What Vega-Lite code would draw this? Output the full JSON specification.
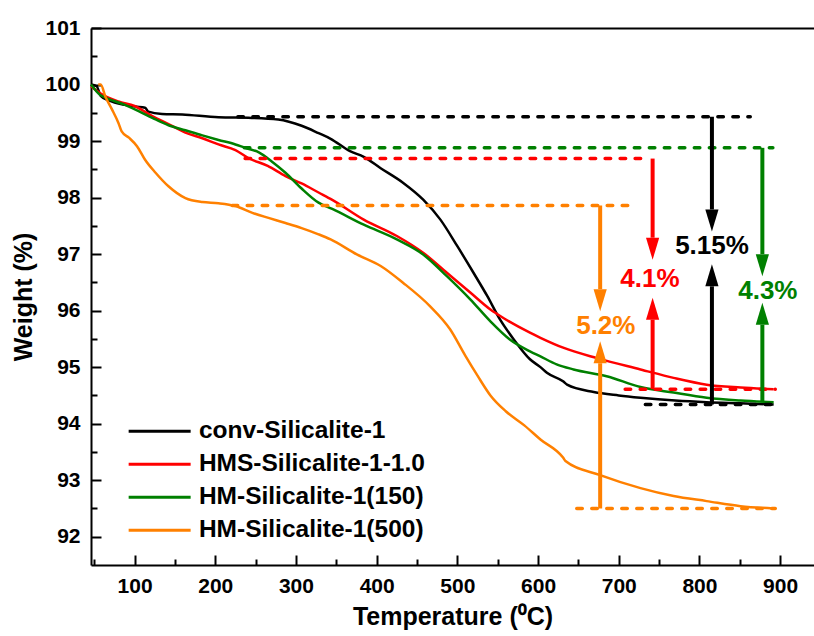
{
  "$schema": "https://vega.github.io/schema/vega-lite/v6.json",
  "autosize": {"type": "none"},
  "padding": {"left": 91, "top": 28, "right": 0, "bottom": 71},
  "width": 723,
  "height": 537,
  "config": {"view": {"stroke": null}, "font": "Liberation Sans"},
  "datasets": {
    "curves": [
      {"s": "conv-Silicalite-1", "t": 46, "w": 100.0},
      {"s": "conv-Silicalite-1", "t": 53, "w": 99.97},
      {"s": "conv-Silicalite-1", "t": 58, "w": 99.8},
      {"s": "conv-Silicalite-1", "t": 68, "w": 99.72},
      {"s": "conv-Silicalite-1", "t": 88, "w": 99.64},
      {"s": "conv-Silicalite-1", "t": 101, "w": 99.61},
      {"s": "conv-Silicalite-1", "t": 113, "w": 99.59},
      {"s": "conv-Silicalite-1", "t": 117, "w": 99.52},
      {"s": "conv-Silicalite-1", "t": 134, "w": 99.48},
      {"s": "conv-Silicalite-1", "t": 159, "w": 99.47},
      {"s": "conv-Silicalite-1", "t": 204, "w": 99.42},
      {"s": "conv-Silicalite-1", "t": 245, "w": 99.41},
      {"s": "conv-Silicalite-1", "t": 278, "w": 99.38},
      {"s": "conv-Silicalite-1", "t": 307, "w": 99.27},
      {"s": "conv-Silicalite-1", "t": 328, "w": 99.14},
      {"s": "conv-Silicalite-1", "t": 343, "w": 99.04},
      {"s": "conv-Silicalite-1", "t": 367, "w": 98.82},
      {"s": "conv-Silicalite-1", "t": 384, "w": 98.72},
      {"s": "conv-Silicalite-1", "t": 405, "w": 98.52},
      {"s": "conv-Silicalite-1", "t": 433, "w": 98.26},
      {"s": "conv-Silicalite-1", "t": 458, "w": 97.96},
      {"s": "conv-Silicalite-1", "t": 479, "w": 97.61},
      {"s": "conv-Silicalite-1", "t": 500, "w": 97.14},
      {"s": "conv-Silicalite-1", "t": 520, "w": 96.67},
      {"s": "conv-Silicalite-1", "t": 537, "w": 96.26},
      {"s": "conv-Silicalite-1", "t": 553, "w": 95.84},
      {"s": "conv-Silicalite-1", "t": 570, "w": 95.49},
      {"s": "conv-Silicalite-1", "t": 590, "w": 95.14},
      {"s": "conv-Silicalite-1", "t": 603, "w": 95.0},
      {"s": "conv-Silicalite-1", "t": 611, "w": 94.9},
      {"s": "conv-Silicalite-1", "t": 631, "w": 94.75},
      {"s": "conv-Silicalite-1", "t": 636, "w": 94.69},
      {"s": "conv-Silicalite-1", "t": 669, "w": 94.56},
      {"s": "conv-Silicalite-1", "t": 700, "w": 94.5},
      {"s": "conv-Silicalite-1", "t": 727, "w": 94.46},
      {"s": "conv-Silicalite-1", "t": 770, "w": 94.41},
      {"s": "conv-Silicalite-1", "t": 809, "w": 94.38},
      {"s": "conv-Silicalite-1", "t": 850, "w": 94.36},
      {"s": "conv-Silicalite-1", "t": 892, "w": 94.34},
      {"s": "HMS-Silicalite-1-1.0", "t": 46, "w": 99.97},
      {"s": "HMS-Silicalite-1-1.0", "t": 57, "w": 99.85},
      {"s": "HMS-Silicalite-1-1.0", "t": 80, "w": 99.7},
      {"s": "HMS-Silicalite-1-1.0", "t": 100, "w": 99.62},
      {"s": "HMS-Silicalite-1-1.0", "t": 122, "w": 99.44},
      {"s": "HMS-Silicalite-1-1.0", "t": 142, "w": 99.3},
      {"s": "HMS-Silicalite-1-1.0", "t": 163, "w": 99.15},
      {"s": "HMS-Silicalite-1-1.0", "t": 184, "w": 99.05},
      {"s": "HMS-Silicalite-1-1.0", "t": 204, "w": 98.94},
      {"s": "HMS-Silicalite-1-1.0", "t": 225, "w": 98.84},
      {"s": "HMS-Silicalite-1-1.0", "t": 241, "w": 98.7},
      {"s": "HMS-Silicalite-1-1.0", "t": 265, "w": 98.56},
      {"s": "HMS-Silicalite-1-1.0", "t": 287, "w": 98.38},
      {"s": "HMS-Silicalite-1-1.0", "t": 307, "w": 98.25},
      {"s": "HMS-Silicalite-1-1.0", "t": 328, "w": 98.09},
      {"s": "HMS-Silicalite-1-1.0", "t": 345, "w": 97.96},
      {"s": "HMS-Silicalite-1-1.0", "t": 384, "w": 97.61},
      {"s": "HMS-Silicalite-1-1.0", "t": 425, "w": 97.32},
      {"s": "HMS-Silicalite-1-1.0", "t": 458, "w": 97.02},
      {"s": "HMS-Silicalite-1-1.0", "t": 487, "w": 96.67},
      {"s": "HMS-Silicalite-1-1.0", "t": 516, "w": 96.32},
      {"s": "HMS-Silicalite-1-1.0", "t": 541, "w": 96.02},
      {"s": "HMS-Silicalite-1-1.0", "t": 557, "w": 95.87},
      {"s": "HMS-Silicalite-1-1.0", "t": 590, "w": 95.61},
      {"s": "HMS-Silicalite-1-1.0", "t": 603, "w": 95.52},
      {"s": "HMS-Silicalite-1-1.0", "t": 632, "w": 95.34},
      {"s": "HMS-Silicalite-1-1.0", "t": 673, "w": 95.16},
      {"s": "HMS-Silicalite-1-1.0", "t": 727, "w": 94.96},
      {"s": "HMS-Silicalite-1-1.0", "t": 768, "w": 94.81},
      {"s": "HMS-Silicalite-1-1.0", "t": 809, "w": 94.69},
      {"s": "HMS-Silicalite-1-1.0", "t": 851, "w": 94.64},
      {"s": "HMS-Silicalite-1-1.0", "t": 892, "w": 94.61},
      {"s": "HM-Silicalite-1(150)", "t": 46, "w": 100.0},
      {"s": "HM-Silicalite-1(150)", "t": 57, "w": 99.82},
      {"s": "HM-Silicalite-1(150)", "t": 64, "w": 99.77},
      {"s": "HM-Silicalite-1(150)", "t": 88, "w": 99.64},
      {"s": "HM-Silicalite-1(150)", "t": 105, "w": 99.53},
      {"s": "HM-Silicalite-1(150)", "t": 122, "w": 99.41},
      {"s": "HM-Silicalite-1(150)", "t": 142, "w": 99.28},
      {"s": "HM-Silicalite-1(150)", "t": 163, "w": 99.19},
      {"s": "HM-Silicalite-1(150)", "t": 184, "w": 99.1},
      {"s": "HM-Silicalite-1(150)", "t": 204, "w": 99.02},
      {"s": "HM-Silicalite-1(150)", "t": 225, "w": 98.94},
      {"s": "HM-Silicalite-1(150)", "t": 237, "w": 98.88},
      {"s": "HM-Silicalite-1(150)", "t": 254, "w": 98.8},
      {"s": "HM-Silicalite-1(150)", "t": 270, "w": 98.64},
      {"s": "HM-Silicalite-1(150)", "t": 287, "w": 98.44},
      {"s": "HM-Silicalite-1(150)", "t": 307, "w": 98.16},
      {"s": "HM-Silicalite-1(150)", "t": 328, "w": 97.91},
      {"s": "HM-Silicalite-1(150)", "t": 345, "w": 97.8},
      {"s": "HM-Silicalite-1(150)", "t": 384, "w": 97.52},
      {"s": "HM-Silicalite-1(150)", "t": 425, "w": 97.26},
      {"s": "HM-Silicalite-1(150)", "t": 458, "w": 96.99},
      {"s": "HM-Silicalite-1(150)", "t": 487, "w": 96.61},
      {"s": "HM-Silicalite-1(150)", "t": 516, "w": 96.2},
      {"s": "HM-Silicalite-1(150)", "t": 541, "w": 95.81},
      {"s": "HM-Silicalite-1(150)", "t": 565, "w": 95.49},
      {"s": "HM-Silicalite-1(150)", "t": 590, "w": 95.28},
      {"s": "HM-Silicalite-1(150)", "t": 603, "w": 95.19},
      {"s": "HM-Silicalite-1(150)", "t": 623, "w": 95.05},
      {"s": "HM-Silicalite-1(150)", "t": 644, "w": 94.96},
      {"s": "HM-Silicalite-1(150)", "t": 685, "w": 94.84},
      {"s": "HM-Silicalite-1(150)", "t": 727, "w": 94.65},
      {"s": "HM-Silicalite-1(150)", "t": 768, "w": 94.55},
      {"s": "HM-Silicalite-1(150)", "t": 809, "w": 94.46},
      {"s": "HM-Silicalite-1(150)", "t": 851, "w": 94.41},
      {"s": "HM-Silicalite-1(150)", "t": 892, "w": 94.38},
      {"s": "HM-Silicalite-1(500)", "t": 55, "w": 100.0},
      {"s": "HM-Silicalite-1(500)", "t": 58, "w": 100.0},
      {"s": "HM-Silicalite-1(500)", "t": 64, "w": 99.78},
      {"s": "HM-Silicalite-1(500)", "t": 72, "w": 99.56},
      {"s": "HM-Silicalite-1(500)", "t": 80, "w": 99.32},
      {"s": "HM-Silicalite-1(500)", "t": 84, "w": 99.17},
      {"s": "HM-Silicalite-1(500)", "t": 93, "w": 99.06},
      {"s": "HM-Silicalite-1(500)", "t": 103, "w": 98.91},
      {"s": "HM-Silicalite-1(500)", "t": 113, "w": 98.67},
      {"s": "HM-Silicalite-1(500)", "t": 126, "w": 98.44},
      {"s": "HM-Silicalite-1(500)", "t": 142, "w": 98.2},
      {"s": "HM-Silicalite-1(500)", "t": 163, "w": 97.99},
      {"s": "HM-Silicalite-1(500)", "t": 184, "w": 97.92},
      {"s": "HM-Silicalite-1(500)", "t": 204, "w": 97.9},
      {"s": "HM-Silicalite-1(500)", "t": 225, "w": 97.85},
      {"s": "HM-Silicalite-1(500)", "t": 246, "w": 97.73},
      {"s": "HM-Silicalite-1(500)", "t": 266, "w": 97.64},
      {"s": "HM-Silicalite-1(500)", "t": 287, "w": 97.55},
      {"s": "HM-Silicalite-1(500)", "t": 307, "w": 97.46},
      {"s": "HM-Silicalite-1(500)", "t": 328, "w": 97.35},
      {"s": "HM-Silicalite-1(500)", "t": 343, "w": 97.26},
      {"s": "HM-Silicalite-1(500)", "t": 376, "w": 96.99},
      {"s": "HM-Silicalite-1(500)", "t": 405, "w": 96.79},
      {"s": "HM-Silicalite-1(500)", "t": 433, "w": 96.49},
      {"s": "HM-Silicalite-1(500)", "t": 466, "w": 96.08},
      {"s": "HM-Silicalite-1(500)", "t": 491, "w": 95.67},
      {"s": "HM-Silicalite-1(500)", "t": 510, "w": 95.2},
      {"s": "HM-Silicalite-1(500)", "t": 525, "w": 94.85},
      {"s": "HM-Silicalite-1(500)", "t": 541, "w": 94.5},
      {"s": "HM-Silicalite-1(500)", "t": 560, "w": 94.22},
      {"s": "HM-Silicalite-1(500)", "t": 583, "w": 93.97},
      {"s": "HM-Silicalite-1(500)", "t": 603, "w": 93.72},
      {"s": "HM-Silicalite-1(500)", "t": 631, "w": 93.4},
      {"s": "HM-Silicalite-1(500)", "t": 634, "w": 93.34},
      {"s": "HM-Silicalite-1(500)", "t": 677, "w": 93.09},
      {"s": "HM-Silicalite-1(500)", "t": 727, "w": 92.86},
      {"s": "HM-Silicalite-1(500)", "t": 768, "w": 92.72},
      {"s": "HM-Silicalite-1(500)", "t": 809, "w": 92.63},
      {"s": "HM-Silicalite-1(500)", "t": 851, "w": 92.54},
      {"s": "HM-Silicalite-1(500)", "t": 892, "w": 92.5}
    ],
    "dashes": [
      {"s": "conv-Silicalite-1", "t1": 228, "t2": 863, "w": 99.43},
      {"s": "conv-Silicalite-1", "t1": 733, "t2": 891, "w": 94.34},
      {"s": "HM-Silicalite-1(150)", "t1": 236, "t2": 891, "w": 98.88},
      {"s": "HMS-Silicalite-1-1.0", "t1": 237, "t2": 738, "w": 98.69},
      {"s": "HMS-Silicalite-1-1.0", "t1": 708, "t2": 894, "w": 94.61},
      {"s": "HM-Silicalite-1(500)", "t1": 221, "t2": 720, "w": 97.86},
      {"s": "HM-Silicalite-1(500)", "t1": 648, "t2": 894, "w": 92.5}
    ],
    "arrows": [
      {"s": "conv-Silicalite-1", "t": 815.5, "w1": 99.43, "w2": 97.79, "tip": 97.4, "dir": "down"},
      {"s": "conv-Silicalite-1", "t": 815.5, "w1": 94.34, "w2": 96.43, "tip": 96.82, "dir": "up"},
      {"s": "HMS-Silicalite-1-1.0", "t": 742, "w1": 98.69, "w2": 97.29, "tip": 96.9, "dir": "down"},
      {"s": "HMS-Silicalite-1-1.0", "t": 742, "w1": 94.61, "w2": 95.84, "tip": 96.23, "dir": "up"},
      {"s": "HM-Silicalite-1(150)", "t": 878, "w1": 98.88, "w2": 97.0, "tip": 96.61, "dir": "down"},
      {"s": "HM-Silicalite-1(150)", "t": 878, "w1": 94.38, "w2": 95.75, "tip": 96.14, "dir": "up"},
      {"s": "HM-Silicalite-1(500)", "t": 677, "w1": 97.86, "w2": 96.38, "tip": 95.99, "dir": "down"},
      {"s": "HM-Silicalite-1(500)", "t": 677, "w1": 92.5, "w2": 95.07, "tip": 95.46, "dir": "up"}
    ],
    "labels": [
      {"s": "conv-Silicalite-1", "t": 815.6, "w": 97.14, "txt": "5.15%"},
      {"s": "HMS-Silicalite-1-1.0", "t": 738.6, "w": 96.56, "txt": "4.1%"},
      {"s": "HM-Silicalite-1(150)", "t": 884.8, "w": 96.34, "txt": "4.3%"},
      {"s": "HM-Silicalite-1(500)", "t": 684, "w": 95.73, "txt": "5.2%"}
    ]
  },
  "resolve": {"axis": {"x": "independent", "y": "independent"}},
  "layer": [
    {
      "data": {"name": "curves"},
      "mark": {"type": "line", "strokeWidth": 2.5, "interpolate": "monotone"},
      "encoding": {
        "x": {"field": "t", "type": "quantitative",
          "scale": {"domain": [46, 942], "nice": false, "zero": false},
          "axis": {"orient": "bottom", "values": [100, 200, 300, 400, 500, 600, 700, 800, 900], "format": "d",
            "grid": false, "tickSize": -10, "tickWidth": 2, "tickColor": "black",
            "domainColor": "black", "domainWidth": 2,
            "labelFont": "Liberation Sans", "labelFontWeight": "bold", "labelFontSize": 21, "labelColor": "black", "labelPadding": 20,
            "title": "Temperature (⁰C)", "titleFont": "Liberation Sans", "titleFontWeight": "bold", "titleFontSize": 25, "titleColor": "black", "titlePadding": 8}},
        "y": {"field": "w", "type": "quantitative",
          "scale": {"domain": [91.5, 101], "nice": false, "zero": false},
          "axis": {"orient": "left", "values": [92, 93, 94, 95, 96, 97, 98, 99, 100, 101], "format": "d",
            "grid": false, "tickSize": -10, "tickWidth": 2, "tickColor": "black",
            "domainColor": "black", "domainWidth": 2,
            "labelFont": "Liberation Sans", "labelFontWeight": "bold", "labelFontSize": 21, "labelColor": "black", "labelPadding": 21,
            "title": "Weight (%)", "titleFont": "Liberation Sans", "titleFontWeight": "bold", "titleFontSize": 25, "titleColor": "black", "titlePadding": 8}},
        "color": {"field": "s", "type": "nominal",
          "scale": {"domain": ["conv-Silicalite-1", "HMS-Silicalite-1-1.0", "HM-Silicalite-1(150)", "HM-Silicalite-1(500)"],
                    "range": ["#000000", "#ff0000", "#008000", "#ff8000"]},
          "legend": {"orient": "none", "legendX": 56.4, "legendY": 391, "title": null, "padding": 0,
            "symbolType": "M-3,0H3", "symbolSize": 427, "symbolStrokeWidth": 3, "symbolFillColor": "transparent",
            "labelFont": "Liberation Sans", "labelFontWeight": "bold", "labelFontSize": 24.5, "labelColor": "black",
            "labelOffset": 27, "rowPadding": 8, "labelLimit": 400}}
      }
    },
    {
      "data": {"name": "dashes"},
      "mark": {"type": "rule", "strokeWidth": 3.5, "strokeDash": [5.5, 9.5], "strokeCap": "round"},
      "encoding": {
        "x": {"field": "t1", "type": "quantitative",
          "scale": {"domain": [46, 942], "nice": false, "zero": false},
          "axis": {"orient": "bottom", "values": [50, 150, 250, 350, 450, 550, 650, 750, 850], "labels": false, "domain": false,
            "grid": false, "tickSize": -6, "tickWidth": 2, "tickColor": "black", "title": null}},
        "x2": {"field": "t2"},
        "y": {"field": "w", "type": "quantitative",
          "scale": {"domain": [91.5, 101], "nice": false, "zero": false},
          "axis": {"orient": "left", "values": [92.5, 93.5, 94.5, 95.5, 96.5, 97.5, 98.5, 99.5, 100.5], "labels": false, "domain": false,
            "grid": false, "tickSize": -6, "tickWidth": 2, "tickColor": "black", "title": null}},
        "color": {"field": "s", "type": "nominal", "legend": null}
      }
    },
    {
      "data": {"name": "arrows"},
      "mark": {"type": "rule", "strokeWidth": 4},
      "encoding": {
        "x": {"field": "t", "type": "quantitative",
          "scale": {"domain": [46, 942], "nice": false, "zero": false},
          "axis": {"orient": "top", "labels": false, "ticks": false, "grid": false,
            "domainColor": "black", "domainWidth": 2, "title": null}},
        "y": {"field": "w1", "type": "quantitative",
          "scale": {"domain": [91.5, 101], "nice": false, "zero": false}, "axis": null},
        "y2": {"field": "w2"},
        "color": {"field": "s", "type": "nominal", "legend": null}
      }
    },
    {
      "data": {"name": "arrows"},
      "mark": {"type": "point", "filled": true, "opacity": 1, "size": 484, "strokeWidth": 0},
      "encoding": {
        "x": {"field": "t", "type": "quantitative",
          "scale": {"domain": [46, 942], "nice": false, "zero": false}, "axis": null},
        "y": {"field": "tip", "type": "quantitative",
          "scale": {"domain": [91.5, 101], "nice": false, "zero": false}, "axis": null},
        "shape": {"field": "dir", "type": "nominal",
          "scale": {"domain": ["down", "up"], "range": ["M-0.6,-2L0.6,-2L0,0Z", "M-0.6,2L0.6,2L0,0Z"]}, "legend": null},
        "color": {"field": "s", "type": "nominal", "legend": null}
      }
    },
    {
      "data": {"name": "labels"},
      "mark": {"type": "text", "font": "Liberation Sans", "fontWeight": "bold", "fontSize": 26, "align": "center", "baseline": "middle"},
      "encoding": {
        "x": {"field": "t", "type": "quantitative",
          "scale": {"domain": [46, 942], "nice": false, "zero": false}, "axis": null},
        "y": {"field": "w", "type": "quantitative",
          "scale": {"domain": [91.5, 101], "nice": false, "zero": false}, "axis": null},
        "text": {"field": "txt"},
        "color": {"field": "s", "type": "nominal", "legend": null}
      }
    }
  ]
}
